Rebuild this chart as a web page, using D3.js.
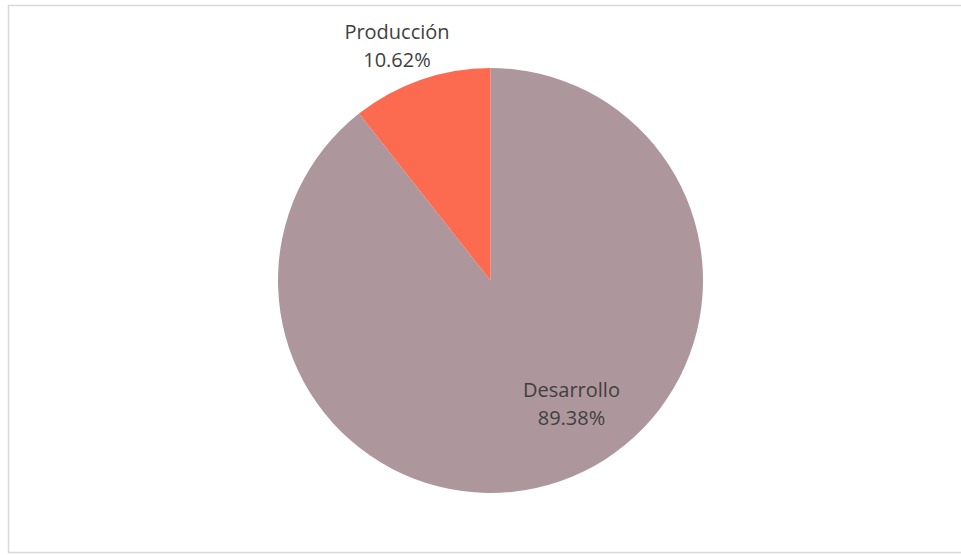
<!DOCTYPE html>
<html>
<head>
<meta charset="utf-8">
<script src="https://cdn.jsdelivr.net/npm/d3@7"></script>
<style>
  body { margin: 0; background: #fff; }
  svg { display: block; }
</style>
</head>
<body>
<div id="chart"></div>
<script>
// chart data
const categories = ['Desarrollo', 'Producción'];
const values = [89.38, 10.62];
const colors = ['#AE979C', '#FC6B50'];

const width = 961;
const height = 555;
const cx = 490.5;
const cy = 280.5;
const radius = 212.5;

const svg = d3.select('#chart')
  .append('svg')
  .attr('width', width)
  .attr('height', height);

// chart frame (right edge runs off the page)
svg.append('rect')
  .attr('x', 8.5)
  .attr('y', 5.5)
  .attr('width', 970)
  .attr('height', 547)
  .attr('fill', 'none')
  .attr('stroke', '#d9d9d9')
  .attr('stroke-width', 1.5);

const data = categories.map((c, i) => ({ name: c, value: values[i] }));

const pie = d3.pie()
  .sort(null)
  .value(d => d.value);

const arc = d3.arc()
  .innerRadius(0)
  .outerRadius(radius);

const g = svg.append('g')
  .attr('transform', `translate(${cx},${cy})`);

const arcs = pie(data);

g.selectAll('path')
  .data(arcs)
  .enter()
  .append('path')
  .attr('d', arc)
  .attr('fill', (d, i) => colors[i]);

// data labels, placed like Excel's "best fit"
const labelPos = {
  'Desarrollo': [571.5, 397],
  'Producción': [397, 38.5],
};

arcs.forEach(d => {
  const [x, y] = labelPos[d.data.name];
  const t = svg.append('text')
    .attr('x', x)
    .attr('y', y)
    .attr('text-anchor', 'middle')
    .attr('font-family', 'Open Sans, sans-serif')
    .attr('font-size', 20)
    .attr('fill', '#3f3f3f');
  t.append('tspan')
    .attr('x', x)
    .text(d.data.name);
  t.append('tspan')
    .attr('x', x)
    .attr('dy', 28)
    .text(d3.format('.2f')(d.data.value) + '%');
});
</script>
</body>
</html>
